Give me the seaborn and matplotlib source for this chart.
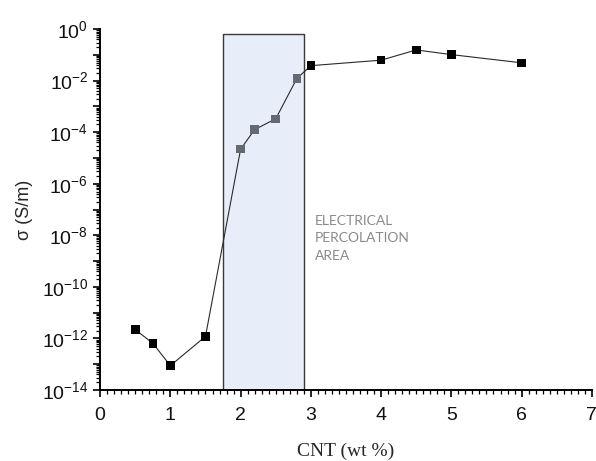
import numpy as np
import pandas as pd
import matplotlib
matplotlib.use("Agg")
import matplotlib.pyplot as plt
import matplotlib.ticker as mticker
from matplotlib.patches import Rectangle
import seaborn as sns

# Data
cnt = [0.5, 0.75, 1.0, 1.5, 2.0, 2.2, 2.5, 2.8, 3.0, 4.0, 4.5, 5.0, 6.0]
sigma = [2.2e-12, 6.5e-13, 8.8e-14, 1.2e-12, 2.2e-5, 1.26e-4, 3.3e-4, 1.2e-2,
         3.8e-2, 6.2e-2, 1.55e-1, 1.02e-1, 4.9e-2]
region = ["out", "out", "out", "out", "in", "in", "in", "in",
          "out", "out", "out", "out", "out"]
perc_x = [1.75, 2.9]
perc_top = 0.63
x_ticks = [0, 1, 2, 3, 4, 5, 6, 7]

df = pd.DataFrame({"cnt": cnt, "sigma": sigma, "region": region})

sns.set_style("ticks")
plt.rcParams["font.family"] = ["Liberation Sans", "DejaVu Sans"]
plt.rcParams["mathtext.fontset"] = "custom"
plt.rcParams["mathtext.rm"] = "Liberation Sans"
plt.rcParams["mathtext.it"] = "Liberation Sans"

fig = plt.figure(figsize=(5.96, 4.61), dpi=100)
ax = fig.add_axes([0.168, 0.154, 0.825, 0.783])

ax.set_yscale("log")
ax.set_ylim(1e-14, 1)
ax.set_xlim(0, 7)

# percolation region
ax.add_patch(Rectangle((perc_x[0], 1e-14), perc_x[1] - perc_x[0], perc_top - 1e-14,
                       facecolor="#e8eef9", edgecolor="#3a3a3a", linewidth=1.0, zorder=0))

# connecting line
sns.lineplot(data=df, x="cnt", y="sigma", color="#2a2a2a", linewidth=0.8,
             sort=False, ax=ax, zorder=2)
# markers
sns.scatterplot(data=df, x="cnt", y="sigma", hue="region",
                palette={"out": "#000000", "in": "#646a72"},
                marker="s", s=38, linewidth=0, legend=False, ax=ax, zorder=3)

ax.text(3.06, 10 ** -7.2, "ELECTRICAL\nPERCOLATION\nAREA", color="#8a8a8a",
        fontsize=10, family=["Lato", "DejaVu Sans"], va="top", ha="left",
        linespacing=1.55)

# axes styling
for s in ["top", "right"]:
    ax.spines[s].set_visible(False)
for s in ["left", "bottom"]:
    ax.spines[s].set_linewidth(1.4)
    ax.spines[s].set_color("black")

ax.set_xticks(x_ticks)
ax.xaxis.set_minor_locator(mticker.MultipleLocator(0.1))
ax.yaxis.set_major_locator(mticker.LogLocator(base=10, numticks=30))
ax.yaxis.set_minor_locator(mticker.LogLocator(base=10, subs=np.arange(2, 10), numticks=30))


def yfmt(v, pos):
    e = int(round(np.log10(v)))
    if e % 2 != 0:
        return ""
    return r"$10^{%d}$" % e


ax.yaxis.set_major_formatter(mticker.FuncFormatter(yfmt))
ax.yaxis.set_minor_formatter(mticker.NullFormatter())

ax.tick_params(axis="both", which="major", direction="out", length=5, width=1.2,
               labelsize=14, color="black", labelcolor="#111111")
ax.tick_params(axis="x", which="major", pad=7)
ax.tick_params(axis="both", which="minor", direction="out", length=3, width=0.9,
               color="black")

ax.set_xlabel("CNT (wt %)", family=["Liberation Serif"], fontsize=14, labelpad=14)
ax.set_ylabel("σ (S/m)", fontsize=13, labelpad=6)

fig.savefig("out.png", dpi=100)
